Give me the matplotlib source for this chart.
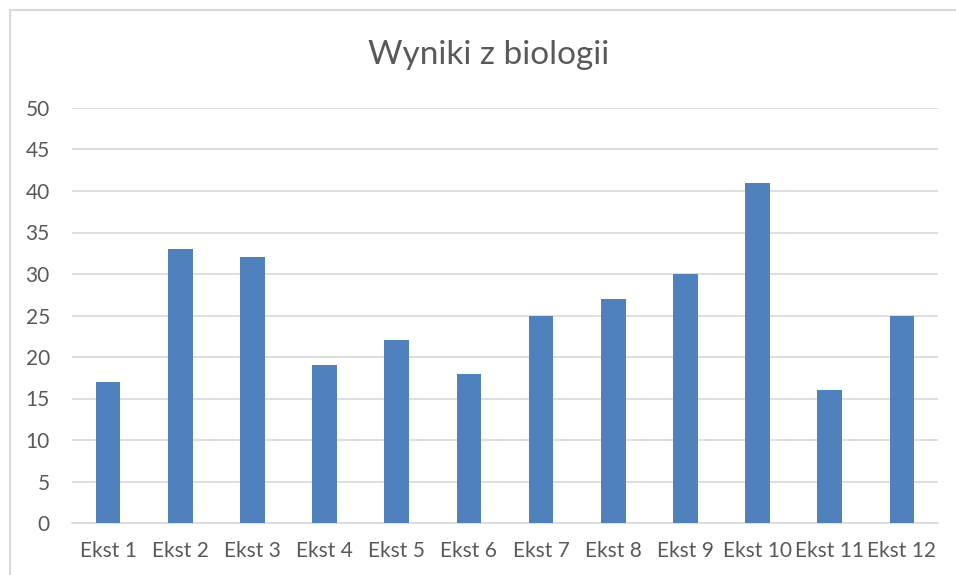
import matplotlib.pyplot as plt
from matplotlib.patches import Rectangle

labels = ['Ekst 1', 'Ekst 2', 'Ekst 3', 'Ekst 4', 'Ekst 5', 'Ekst 6',
          'Ekst 7', 'Ekst 8', 'Ekst 9', 'Ekst 10', 'Ekst 11', 'Ekst 12']
values = [17, 33, 32, 19, 22, 18, 25, 27, 30, 41, 16, 25]

plt.rcParams['font.family'] = ['Lato', 'DejaVu Sans']
text_color = '#595959'

fig = plt.figure(figsize=(9.56, 5.75), dpi=100)
W, H = 956, 575
ax = fig.add_axes([72 / W, 1 - 523 / H, (938 - 72) / W, (523 - 108) / H])

x = range(len(labels))
ax.bar(x, values, width=0.34, color='#4F81BD', zorder=3)
ax.set_xlim(-0.5, len(labels) - 0.5)
ax.set_ylim(0, 50)
ax.set_yticks(range(0, 51, 5))
ax.set_xticks(list(x))
ax.set_xticklabels(labels)
ax.grid(axis='y', color='#d9d9d9', linewidth=1.2, zorder=0)
for s in ['top', 'right', 'left']:
    ax.spines[s].set_visible(False)
ax.spines['bottom'].set_color('#d9d9d9')
ax.spines['bottom'].set_linewidth(1.2)
ax.tick_params(axis='both', length=0, labelsize=15, colors=text_color)
ax.tick_params(axis='x', pad=13)
ax.tick_params(axis='y', pad=16)

fig.text(489 / W, 1 - 55 / H, 'Wyniki z biologii', ha='center', va='center',
         fontsize=24, color=text_color)

# chart border
fig.patches.append(Rectangle((10 / W, -0.1), 1.1, 1 - 10 / H + 0.1,
                             transform=fig.transFigure, fill=False,
                             edgecolor='#d9d9d9', linewidth=1.5))

fig.savefig('out.png', dpi=100)
